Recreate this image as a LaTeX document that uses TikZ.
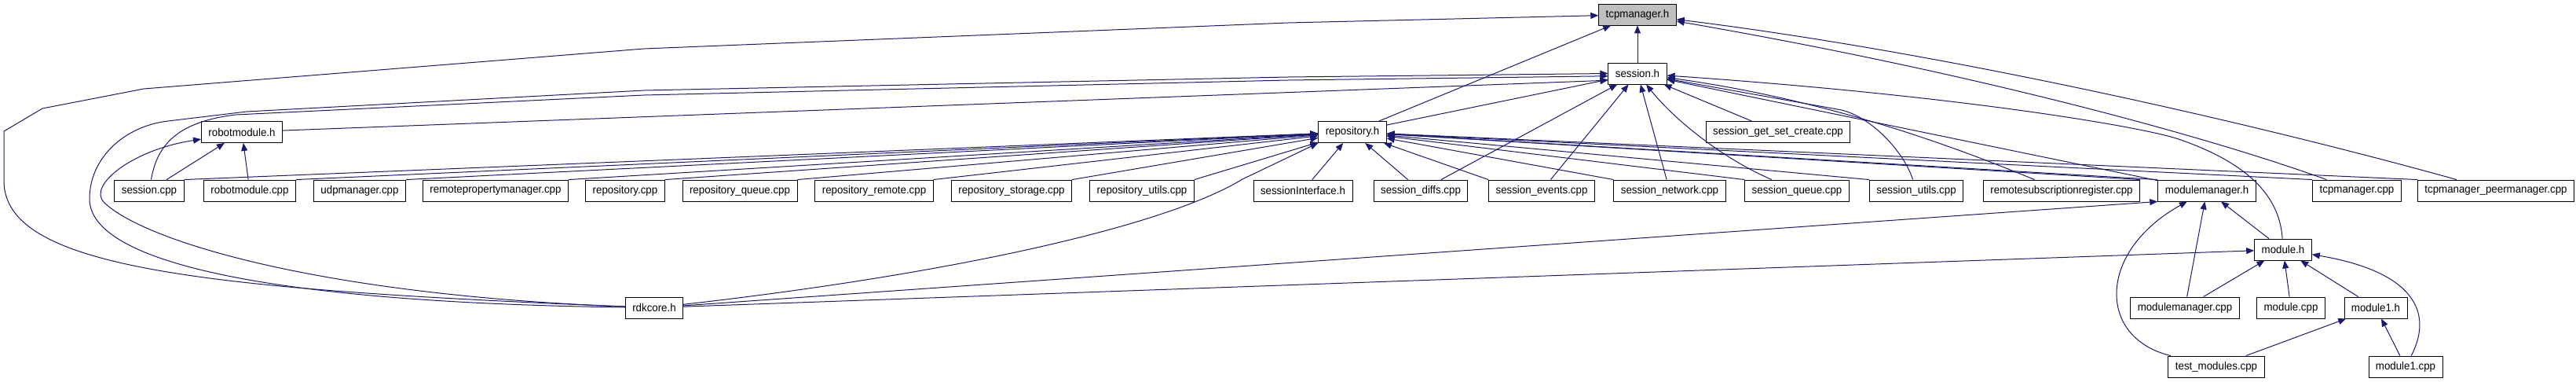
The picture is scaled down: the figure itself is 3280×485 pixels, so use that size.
\documentclass[tikz,border=0pt]{standalone}
\usepackage{fontspec}
\setmainfont{Liberation Sans}[FakeStretch=0.95]
\usetikzlibrary{arrows.meta}
\definecolor{edgeblue}{HTML}{191970}
\definecolor{curgray}{HTML}{BFBFBF}
\tikzset{
  filebox/.style={draw=black, line width=0.9pt, fill=white, inner xsep=9pt, inner ysep=0pt, minimum height=27pt, font=\fontsize{14pt}{16pt}\selectfont},
  curbox/.style={filebox, fill=curgray},
  dep/.style={-{Triangle[length=10pt,width=8pt]}, line width=1pt, draw=edgeblue}
}

\begin{document}
\begin{tikzpicture}[x=1pt,y=-1pt]
\useasboundingbox (0,0) rectangle (3280,485);
% headers
\node[curbox] (tcpmgrh) at (2085,18.5) {tcpmanager.h};
\node[filebox] (sessionh) at (2085,93.5) {session.h};
\node[filebox] (robotmodh) at (308,168) {robotmodule.h};
\node[filebox] (repoh) at (1722,168) {repository.h};
\node[filebox] (sgsc) at (2264,168) {session\_get\_set\_create.cpp};
% third row
\node[filebox] (sessioncpp) at (190,242.5) {session.cpp};
\node[filebox] (robotmodcpp) at (318,242.5) {robotmodule.cpp};
\node[filebox] (udpcpp) at (458,242.5) {udpmanager.cpp};
\node[filebox] (rpmcpp) at (631,242.5) {remotepropertymanager.cpp};
\node[filebox] (repocpp) at (796,242.5) {repository.cpp};
\node[filebox] (repoqueue) at (942,242.5) {repository\_queue.cpp};
\node[filebox] (reporemote) at (1113,242.5) {repository\_remote.cpp};
\node[filebox] (repostorage) at (1288,242.5) {repository\_storage.cpp};
\node[filebox] (repoutils) at (1454,242.5) {repository\_utils.cpp};
\node[filebox] (sessif) at (1659,242.5) {sessionInterface.h};
\node[filebox] (sdiffs) at (1809,242.5) {session\_diffs.cpp};
\node[filebox] (sevents) at (1963,242.5) {session\_events.cpp};
\node[filebox] (snetwork) at (2126,242.5) {session\_network.cpp};
\node[filebox] (squeue) at (2288,242.5) {session\_queue.cpp};
\node[filebox] (sutils) at (2440,242.5) {session\_utils.cpp};
\node[filebox] (rsr) at (2625,242.5) {remotesubscriptionregister.cpp};
\node[filebox] (modmgrh) at (2810,242.5) {modulemanager.h};
\node[filebox] (tcpcpp) at (3001,242.5) {tcpmanager.cpp};
\node[filebox] (tcppeer) at (3178,242.5) {tcpmanager\_peermanager.cpp};
% lower rows
\node[filebox] (moduleh) at (2907,317.5) {module.h};
\node[filebox] (rdkcoreh) at (833,391.5) {rdkcore.h};
\node[filebox] (modmgrcpp) at (2782,391.5) {modulemanager.cpp};
\node[filebox] (modulecpp) at (2917,391.5) {module.cpp};
\node[filebox] (module1h) at (3025,391.5) {module1.h};
\node[filebox] (testmod) at (2822,466.5) {test\_modules.cpp};
\node[filebox] (module1cpp) at (3063,466.5) {module1.cpp};

% into tcpmanager.h
\draw[dep] (sessionh) -- (tcpmgrh); \draw[dep] (repoh) -- (tcpmgrh);
\draw[dep] (tcpcpp) .. controls (2800,170) and (2500,90) .. (tcpmgrh);
\draw[dep] (tcppeer) .. controls (2900,165) and (2500,70) .. (tcpmgrh);
\draw[dep] (rdkcoreh) .. controls (250,368) and (5,340) .. (5,230) -- (5,167) -- (54,138) -- (183,113) -- (820,62) -- (1640,29) -- (tcpmgrh);

% into session.h
\draw[dep] (robotmodh) -- (sessionh.193); \draw[dep] (repoh) -- (sessionh);
\draw[dep] (sessioncpp) .. controls (200,185) and (225,155) .. (300,146) -- (820,121) -- (1640,102) -- (sessionh.185);
\draw[dep] (rdkcoreh) .. controls (350,385) and (114,335) .. (114,253) .. controls (114,200) and (160,160) .. (214,154) -- (314,142) -- (820,115) -- (1640,98) -- (sessionh.west);
\draw[dep] (sdiffs) -- (sessionh); \draw[dep] (sevents) -- (sessionh); \draw[dep] (snetwork) -- (sessionh);
\draw[dep] (squeue) .. controls (2190,200) and (2130,150) .. (sessionh);
\draw[dep] (sgsc) -- (sessionh); \draw[dep] (modmgrh) -- (sessionh);
\draw[dep] (rsr) .. controls (2520,200) and (2350,130) .. (sessionh);
\draw[dep] (sutils) .. controls (2425,195) and (2385,150) .. (2345,140) -- (sessionh);
\draw[dep] (moduleh) .. controls (2903,255) and (2870,210) .. (2774,177) .. controls (2730,162) and (2500,122) .. (sessionh);

% into robotmodule.h
\draw[dep] (sessioncpp) -- (robotmodh); \draw[dep] (robotmodcpp) -- (robotmodh);
\draw[dep] (rdkcoreh) .. controls (400,375) and (180,305) .. (132,257) .. controls (112,235) and (170,190) .. (robotmodh.190);

% into repository.h
\draw[dep] (sessioncpp.north east) -- (repoh); \draw[dep] (robotmodcpp.north east) -- (repoh); \draw[dep] (udpcpp.north east) -- (repoh);
\draw[dep] (rpmcpp.north east) -- (repoh); \draw[dep] (repocpp.north east) -- (repoh); \draw[dep] (repoqueue.north east) -- (repoh);
\draw[dep] (reporemote.north east) -- (repoh); \draw[dep] (repostorage.north east) -- (repoh); \draw[dep] (repoutils.north east) -- (repoh);
\draw[dep] (sessif) -- (repoh); \draw[dep] (sdiffs) -- (repoh);
\draw[dep] (sevents.north west) -- (repoh); \draw[dep] (snetwork.north west) -- (repoh); \draw[dep] (squeue.north west) -- (repoh);
\draw[dep] (sutils.north west) -- (repoh); \draw[dep] (rsr.north east) -- (repoh); \draw[dep] (modmgrh.north west) -- (repoh);
\draw[dep] (tcpcpp.north west) -- (repoh); \draw[dep] (tcppeer.north west) -- (repoh);
\draw[dep] (rdkcoreh) .. controls (1200,350) and (1480,290) .. (1582,228) -- (repoh.south west);

% into modulemanager.h and module.h
\draw[dep] (rdkcoreh) -- (modmgrh.south west); \draw[dep] (modmgrcpp) -- (modmgrh); \draw[dep] (moduleh) -- (modmgrh);
\draw[dep] (testmod) .. controls (2670,430) and (2670,320) .. (modmgrh);
\draw[dep] (rdkcoreh) -- (moduleh); \draw[dep] (modmgrcpp) -- (moduleh); \draw[dep] (modulecpp) -- (moduleh); \draw[dep] (module1h) -- (moduleh);
\draw[dep] (module1cpp) .. controls (3100,395) and (3070,345) .. (moduleh);
\draw[dep] (testmod) -- (module1h); \draw[dep] (module1cpp) -- (module1h);
\end{tikzpicture}
\end{document}
